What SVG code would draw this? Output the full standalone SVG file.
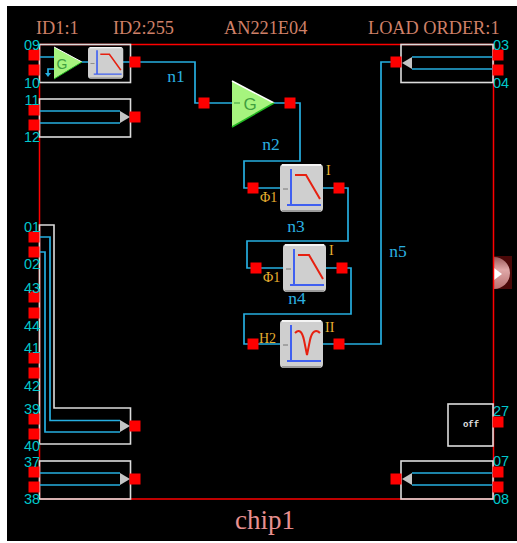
<svg xmlns="http://www.w3.org/2000/svg" width="517" height="543" viewBox="0 0 517 543">
<style>
.wire{fill:none;stroke:#26aee0;stroke-width:1.700}
.box{fill:none;stroke:#dcdcdc;stroke-width:1.600}
.pin{fill:#ff0000}
.tip{fill:#c4c4c4}
.pl{font:14.500px "Liberation Sans",sans-serif;fill:#00c8cc;text-anchor:middle}
.nl{font:17.500px "Liberation Serif",serif;fill:#2bb0e0;text-anchor:middle}
.hd{font:18.300px "Liberation Serif",serif;fill:#cf8068}
.mk{font:14px "Liberation Serif",serif;fill:#e8b030}
.g{font:17px "Liberation Sans",sans-serif;fill:#3f9f3f;text-anchor:middle}
</style>
<defs>
<linearGradient id="tab-g" x1="0" y1="0" x2="0" y2="1"><stop offset="0" stop-color="#9a5a5a"/><stop offset="0.4" stop-color="#e0a8a8"/><stop offset="1" stop-color="#b87070"/></linearGradient>
<g id="filterbox">
<rect x="0" y="0" width="43" height="48" rx="4" fill="#cfcfcf"/>
<rect x="2" y="0" width="39" height="2" fill="#f4f4f4"/>
<rect x="2" y="46" width="39" height="2" fill="#9a9a9a"/>
<path d="M11 5V41M7 41H41" fill="none" stroke="#4060f0" stroke-width="2"/>
<path d="M3 25H8" fill="none" stroke="#777" stroke-width="1"/>
</g>
<path id="lp" d="M15 11H26L40 35" fill="none" stroke="#e62010" stroke-width="2"/>
<rect id="sq" x="-5.500" y="-5.500" width="11" height="11" class="pin"/>
</defs>
<rect x="0" y="0" width="517" height="543" fill="#ffffff"/>
<rect x="7" y="6" width="510" height="535" fill="#000000"/>
<g id="tab">
<rect x="494" y="256" width="18" height="33" fill="#4a0808"/>
<path d="M494 257A16 16 0 0 1 494 289Z" fill="url(#tab-g)"/>
<path d="M494 268L502 274L494 280Z" fill="#ffffff"/>
</g>
<rect id="frame" x="39.500" y="44.500" width="454" height="454.500" fill="none" stroke="#ff0000" stroke-width="1.500"/>
<g id="header">
<text class="hd" x="36" y="34">ID1:1</text>
<text class="hd" x="113" y="34">ID2:255</text>
<text class="hd" x="224" y="34">AN221E04</text>
<text class="hd" x="368" y="34">LOAD ORDER:1</text>
</g>
<g id="connectors">
<path class="wire" d="M140 62H195V103H232"/>
<path class="wire" d="M274 103H300V161H244V188H280"/>
<path class="wire" d="M323 188H348V241H247V268H283"/>
<path class="wire" d="M326 268H351V314H244V344H280"/>
<path class="wire" d="M323 344H381V62H396"/>
</g>
<g id="n1"><text class="nl" x="176" y="82">n1</text></g>
<g id="n2"><text class="nl" x="271" y="150">n2</text></g>
<g id="n3"><text class="nl" x="296" y="232">n3</text></g>
<g id="n4"><text class="nl" x="297" y="304">n4</text></g>
<g id="n5"><text class="nl" x="398" y="257">n5</text></g>
<g id="block-09-10">
<rect class="box" x="39.500" y="44.500" width="91" height="38"/>
<path class="wire" d="M40 57H54M54 69H48V75"/>
<path d="M45 73L48 77L51 73Z" fill="#26aee0"/>
<path d="M54 47V79L82 62Z" fill="#a6f47e"/>
<path d="M54 47L82 62" stroke="#ffffff" stroke-width="1" fill="none"/>
<path d="M54 79L82 62" stroke="#22b822" stroke-width="1" fill="none"/>
<text class="g" x="62" y="69" style="font-size:14px">G</text>
<path class="wire" d="M82 62H88M123 62H130"/>
<g transform="translate(88,47) scale(0.82,0.66)"><use href="#filterbox"/><use href="#lp"/></g>
<use href="#sq" x="34" y="55"/><use href="#sq" x="34" y="70"/><use href="#sq" x="135" y="62"/>
</g>
<g id="block-11-12">
<rect class="box" x="39.500" y="99" width="91" height="38"/>
<path class="wire" d="M40 111H120M40 123H120"/>
<path class="tip" d="M120 111L130 117L120 123Z"/>
<use href="#sq" x="34" y="110"/><use href="#sq" x="34" y="125"/><use href="#sq" x="135" y="117"/>
</g>
<g id="block-long">
<path class="box" d="M39.500 225H54V408H130.500V444H39.500Z"/>
<path class="wire" d="M40 237H50V420.500H120M40 252H45V432H120"/>
<path class="tip" d="M120 420L130 426L120 432Z"/>
<use href="#sq" x="34" y="237"/><use href="#sq" x="34" y="252"/><use href="#sq" x="34" y="297"/><use href="#sq" x="34" y="313"/><use href="#sq" x="34" y="358"/><use href="#sq" x="34" y="373"/><use href="#sq" x="34" y="419"/><use href="#sq" x="34" y="434"/><use href="#sq" x="135" y="426"/>
</g>
<g id="block-37-38">
<rect class="box" x="39.500" y="461" width="91" height="38"/>
<path class="wire" d="M40 473H120M40 485H120"/>
<path class="tip" d="M120 473L130 479L120 485Z"/>
<use href="#sq" x="34" y="472"/><use href="#sq" x="34" y="487"/><use href="#sq" x="135" y="479"/>
</g>
<g id="block-03-04">
<rect class="box" x="401" y="44.500" width="92" height="38"/>
<path class="wire" d="M412 57H493M412 69H493"/>
<path class="tip" d="M412 57L402 63L412 69Z"/>
<use href="#sq" x="498" y="55"/><use href="#sq" x="498" y="70"/><use href="#sq" x="396" y="62"/>
</g>
<g id="block-07-08">
<rect class="box" x="401" y="461" width="92" height="38"/>
<path class="wire" d="M412 473H493M412 485H493"/>
<path class="tip" d="M412 473L402 479L412 485Z"/>
<use href="#sq" x="498" y="472"/><use href="#sq" x="498" y="487"/><use href="#sq" x="396" y="479"/>
</g>
<g id="block-off">
<rect class="box" x="448" y="404" width="45" height="42"/>
<text x="471" y="427" font-family="Liberation Mono,monospace" font-size="9" font-weight="bold" fill="#e0e0e0" text-anchor="middle">off</text>
<use href="#sq" x="498" y="422"/>
</g>
<g id="gain">
<path d="M232 81V127L274 103Z" fill="#a6f47e"/>
<path d="M232 81L274 103" stroke="#ffffff" stroke-width="1.500" fill="none"/>
<path d="M232 127L274 103" stroke="#22b822" stroke-width="1.500" fill="none"/>
<path d="M234 103H240" stroke="#3f9f3f" fill="none"/>
<text class="g" x="250" y="110">G</text>
<use href="#sq" x="204" y="103"/><use href="#sq" x="290" y="103"/>
</g>
<g id="filter-n3">
<use href="#filterbox" x="280" y="164"/><use href="#lp" x="280" y="164"/>
<text class="mk" x="326" y="175">I</text>
<text class="mk" x="260" y="202">Φ1</text>
<use href="#sq" x="253" y="188"/><use href="#sq" x="339" y="188"/>
</g>
<g id="filter-n4">
<use href="#filterbox" x="283" y="244"/><use href="#lp" x="283" y="244"/>
<text class="mk" x="329" y="255">I</text>
<text class="mk" x="263" y="282">Φ1</text>
<use href="#sq" x="256" y="268"/><use href="#sq" x="342" y="268"/>
</g>
<g id="filter-n5">
<use href="#filterbox" x="280" y="320"/>
<path d="M295 333C299 329 302 331 304 340L307 355L310 340C312 331 316 329 320 333" fill="none" stroke="#e62010" stroke-width="2"/>
<text class="mk" x="325" y="332">II</text>
<text class="mk" x="259" y="343">H2</text>
<use href="#sq" x="253" y="344"/><use href="#sq" x="339" y="344"/>
</g>
<g id="pin-labels">
<text class="pl" x="32" y="50">09</text><text class="pl" x="32" y="88">10</text>
<text class="pl" x="32" y="105">11</text><text class="pl" x="32" y="142">12</text>
<text class="pl" x="32" y="232">01</text><text class="pl" x="32" y="269">02</text>
<text class="pl" x="32" y="293">43</text><text class="pl" x="32" y="331">44</text>
<text class="pl" x="32" y="353">41</text><text class="pl" x="32" y="391">42</text>
<text class="pl" x="32" y="414">39</text><text class="pl" x="32" y="451">40</text>
<text class="pl" x="32" y="467">37</text><text class="pl" x="32" y="504">38</text>
<text class="pl" x="501" y="50">03</text><text class="pl" x="501" y="88">04</text>
<text class="pl" x="501" y="416">27</text>
<text class="pl" x="501" y="466">07</text><text class="pl" x="501" y="504">08</text>
</g>
<text x="265" y="529" font-family="Liberation Serif,serif" font-size="27" fill="#e89090" text-anchor="middle">chip1</text>
</svg>
